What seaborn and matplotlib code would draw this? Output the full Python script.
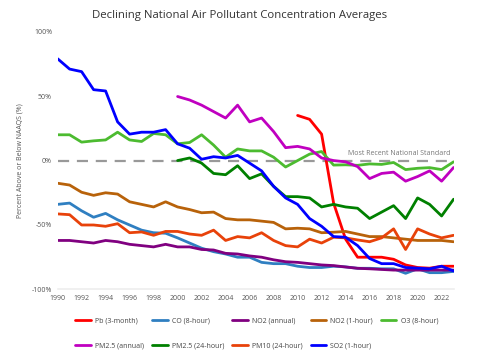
import pandas as pd
import matplotlib
matplotlib.use('Agg')
import matplotlib.pyplot as plt
import seaborn as sns

years = list(range(1990, 2024))

pb = [None] * 20 + [35, 32, 20.5, -33, -61, -75, -75, -75, -76.6, -81, -83, -83.5, -82, -82]
co = [-34, -33, -39, -44, -41, -46, -50, -54, -56, -56.4, -60, -64, -68, -70.7, -72.5, -75, -75, -79, -80, -80,
      -82, -83, -83, -82, -82.5, -83.6, -83.6, -84, -84, -87.5, -84, -87, -87, -86]
no2_annual = [-62, -62, -63, -64, -62, -63, -65, -66, -67, -65, -67, -67, -69, -69.4, -72, -72.5, -74, -75, -77, -78.5,
              -79, -80, -81, -81.5, -82.6, -83.6, -84, -84.5, -85, -85, -85, -85, -85, -85]
no2_1hr = [-17.6, -19, -24.6, -27, -25, -26, -32, -34, -36, -32, -36, -38, -40.5, -40, -45, -46, -46, -47, -48, -53,
           -52.5, -53, -56, -55.6, -55, -57, -59, -59, -60, -61, -62, -62, -62, -63]
o3 = [20, 20, 14.3, 15.3, 16, 22, 16, 14.8, 21, 20, 13, 14, 20, 12, 2.6, 9, 7.5, 7.5, 2.6, -5,
      0, 5, 7, -3.5, -3.3, -3.7, -2.6, -3, -1.5, -7, -6, -5.5, -7, -1]
pm25_annual = [None] * 10 + [49.7, 47, 43, 38, 33, 43, 30, 33, 22.5, 10, 11, 9, 2, 0, -1, -4.7, -14, -10, -9, -16,
                             -12.4, -8, -16, -5.4]
pm25_24hr = [None] * 10 + [0, 2, -2, -10, -11, -4, -14, -10.3, -20, -28, -28, -29, -36, -34, -36, -37, -45, -40, -35,
                           -45, -29, -34, -43, -30]
pm10 = [-41.4, -42, -50, -50, -51, -49, -56, -55.4, -58, -55, -55, -57, -58, -54, -62, -59, -60, -56, -62, -66,
        -67, -61, -64, -59.5, -60, -61.6, -63, -60, -53, -69, -53, -57, -60, -58]
so2 = [79, 71, 69, 55, 54, 30, 20.5, 22, 22, 24, 13, 9.6, 1, 3, 2, 4, -2, -8, -20, -29,
       -34, -45, -51, -59, -59.5, -66, -76, -80, -80, -83, -83.5, -84, -82, -85.7]

names = ['Pb (3-month)', 'CO (8-hour)', 'NO2 (annual)', 'NO2 (1-hour)', 'O3 (8-hour)',
         'PM2.5 (annual)', 'PM2.5 (24-hour)', 'PM10 (24-hour)', 'SO2 (1-hour)']
series = [pb, co, no2_annual, no2_1hr, o3, pm25_annual, pm25_24hr, pm10, so2]
colors = ['#ff0000', '#2f7fc1', '#800080', '#b8620a', '#4cbb30',
          '#c000c0', '#008000', '#e8420a', '#0000ff']

rows = []
for name, vals in zip(names, series):
    for y, v in zip(years, vals):
        if v is not None:
            rows.append({'Year': y, 'Pollutant': name, 'Value': v})
df = pd.DataFrame(rows)

sns.set_style('white')
plt.rcParams['font.family'] = ['Open Sans', 'DejaVu Sans']

fig = plt.figure(figsize=(4.8, 3.56), dpi=100)
ax = fig.add_axes([0.12, 0.187, 0.825, 0.724])

# 标准线
ax.axhline(0, color='#999999', lw=1.6, ls=(0, (5, 3.5)), zorder=1)
ax.text(2022.7, 2.5, 'Most Recent National Standard', fontsize=5, color='#777777',
        ha='right', va='bottom')

sns.lineplot(data=df, x='Year', y='Value', hue='Pollutant', hue_order=names,
             palette=dict(zip(names, colors)), lw=2.0, ax=ax, legend=False, zorder=3)

ax.set_xlim(1990, 2023)
ax.set_ylim(-100, 100)
ax.set_xticks(range(1990, 2023, 2))
ax.set_yticks([-100, -50, 0, 50, 100])
ax.set_yticklabels(['-100%', '-50%', '0%', '50%', '100%'])
ax.tick_params(axis='both', labelsize=5, colors='#555555', length=0, pad=4)
for s in ['top', 'right', 'left']:
    ax.spines[s].set_visible(False)
ax.spines['bottom'].set_color('#eeeeee')
ax.spines['bottom'].set_linewidth(1.2)
ax.set_xlabel('')
ax.set_ylabel('Percent Above or Below NAAQS (%)', fontsize=5, color='#555555', labelpad=6)

fig.suptitle('Declining National Air Pollutant Concentration Averages', fontsize=8.2,
             color='#333333', y=0.972)

# 图例按行排列
order = [0, 5, 1, 6, 2, 7, 3, 8, 4]
handles = [plt.Line2D([], [], color=colors[i], lw=2) for i in order]
labels = [names[i] for i in order]
fig.legend(handles, labels, loc='lower center', bbox_to_anchor=(0.535, 0.0), ncol=5,
           fontsize=5, frameon=False, handlelength=2.2, columnspacing=1.2,
           labelspacing=2.6, handletextpad=0.6, labelcolor='#444444')

plt.savefig('out.png', dpi=100)
plt.close()
